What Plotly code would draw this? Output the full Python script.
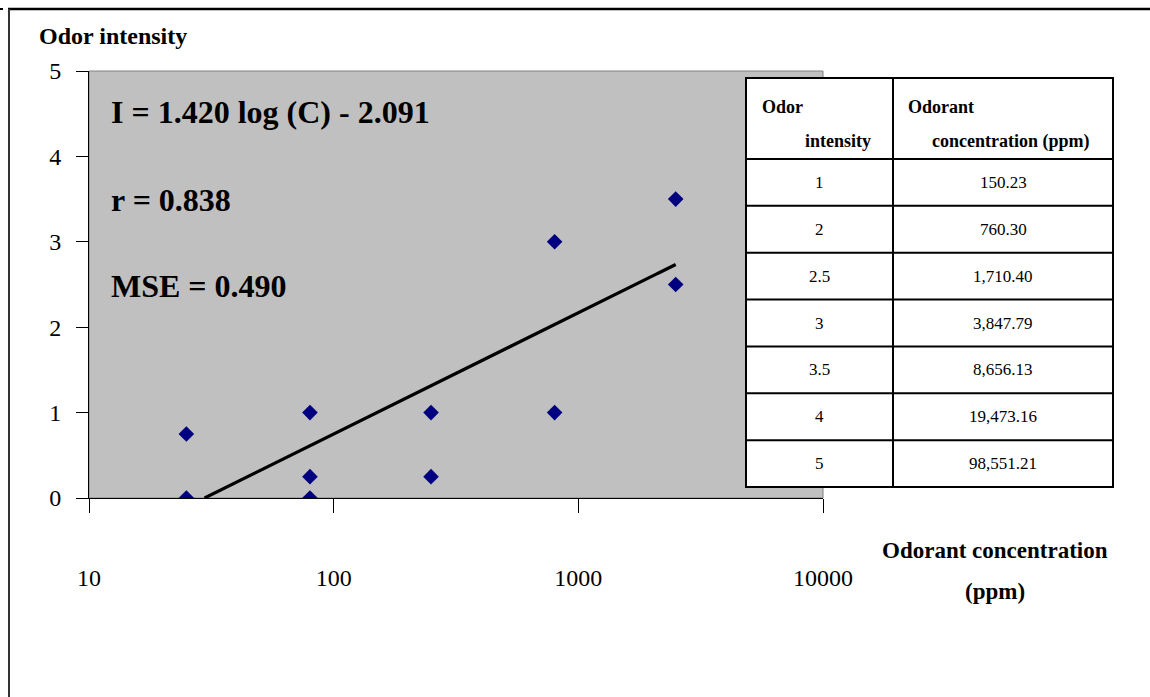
import numpy as np
import plotly.graph_objects as go

# Observed panel responses
conc_ppm = [25, 25, 80, 80, 80, 250, 250, 800, 800, 2500, 2500]
intensity = [0.75, 0, 1, 0.25, 0, 1, 0.25, 3, 1, 3.5, 2.5]

# Fitted model I = a log(C) + b
fit_a = 1.420
fit_b = -2.091
fit_r = 0.838
fit_mse = 0.490

# Reference table
table_intensity = ["1", "2", "2.5", "3", "3.5", "4", "5"]
table_conc = ["150.23", "760.30", "1,710.40", "3,847.79", "8,656.13", "19,473.16", "98,551.21"]

x_tickvals = [10, 100, 1000, 10000]
x_ticktext = ["10", "100", "1000", "10000"]
y_tickvals = [0, 1, 2, 3, 4, 5]

W, H = 1150, 697
L, R, T, B = 89, 823, 71, 498  # plot area in pixels


def px(x):
    return (x - L) / (R - L)


def py(y):
    return (B - y) / (B - T)


SERIF = "Liberation Serif, Times New Roman, serif"


def label(x, y, text, size, xanchor="left", bold=False):
    return dict(xref="paper", yref="paper", x=px(x), y=py(y),
                text=f"<b>{text}</b>" if bold else text,
                xanchor=xanchor, yanchor="middle", showarrow=False,
                font=dict(family=SERIF, size=size, color="black"))


# Trend line from the fitted equation, kept at or above zero
c_start = 10 ** (-fit_b / fit_a)
c_line = np.logspace(np.log10(c_start), np.log10(max(conc_ppm)), 200)
i_line = fit_a * np.log10(c_line) + fit_b

fig = go.Figure()
fig.add_trace(go.Scatter(x=c_line, y=i_line, mode="lines",
                         line=dict(color="black", width=3.2), hoverinfo="skip"))
fig.add_trace(go.Scatter(x=conc_ppm, y=intensity, mode="markers",
                         marker=dict(symbol="diamond", size=12, color="#000080",
                                     line=dict(width=0))))

shapes = []
annotations = []

# Plot-area frame (top/right in grey)
shapes.append(dict(type="rect", xref="paper", yref="paper", x0=0, x1=1, y0=0, y1=1,
                   line=dict(color="#808080", width=1), layer="below"))

# Outer frame lines
shapes.append(dict(type="line", xref="paper", yref="paper",
                   x0=px(8), x1=px(1150), y0=py(9), y1=py(9),
                   line=dict(color="black", width=2.5)))
shapes.append(dict(type="line", xref="paper", yref="paper",
                   x0=px(9), x1=px(9), y0=py(9), y1=py(697),
                   line=dict(color="#333333", width=2)))
shapes.append(dict(type="line", xref="paper", yref="paper",
                   x0=px(0), x1=px(3), y0=py(9), y1=py(9),
                   line=dict(color="black", width=2)))

# Table
tx0, tx_mid, tx1 = 746, 893, 1113
ty_top, ty_head = 78, 159
row_h = (487 - ty_head) / len(table_intensity)
shapes.append(dict(type="rect", xref="paper", yref="paper",
                   x0=px(tx0), x1=px(tx1), y0=py(487), y1=py(ty_top),
                   fillcolor="white", line=dict(color="black", width=2), layer="above"))
shapes.append(dict(type="line", xref="paper", yref="paper",
                   x0=px(tx_mid), x1=px(tx_mid), y0=py(487), y1=py(ty_top),
                   line=dict(color="black", width=2)))
for i in range(len(table_intensity)):
    yl = ty_head + i * row_h
    shapes.append(dict(type="line", xref="paper", yref="paper",
                       x0=px(tx0), x1=px(tx1), y0=py(yl), y1=py(yl),
                       line=dict(color="black", width=2)))
    yc = yl + row_h / 2
    annotations.append(label((tx0 + tx_mid) / 2, yc, table_intensity[i], 17, "center"))
    annotations.append(label((tx_mid + tx1) / 2, yc, table_conc[i], 17, "center"))

for txt, x0, y0 in [("Odor", 760, 107), ("intensity", 803, 141),
                    ("Odorant", 906, 107), ("concentration (ppm)", 930, 141)]:
    annotations.append(label(x0, y0, txt, 18, bold=True))

# Fit statistics
annotations.append(label(109, 112, f"I = {fit_a:.3f} log (C) - {abs(fit_b):.3f}", 32, bold=True))
annotations.append(label(109, 200, f"r = {fit_r:.3f}", 32, bold=True))
annotations.append(label(109, 286, f"MSE = {fit_mse:.3f}", 32, bold=True))

# Axis titles
annotations.append(label(37, 36, "Odor intensity", 24, bold=True))
annotations.append(label(995, 550, "Odorant concentration", 23, "center", bold=True))
annotations.append(label(995, 591, "(ppm)", 23, "center", bold=True))

fig.update_layout(
    width=W, height=H,
    margin=dict(l=L, r=W - R, t=T, b=H - B, pad=0),
    paper_bgcolor="white",
    plot_bgcolor="#C0C0C0",
    showlegend=False,
    shapes=shapes,
    annotations=annotations,
    font=dict(family=SERIF, size=24, color="black"),
)
fig.update_xaxes(type="log", range=[1, 4], tickvals=x_tickvals, ticktext=x_ticktext,
                 showgrid=False, zeroline=False, showline=True, linecolor="black", linewidth=1,
                 ticks="outside", ticklen=14, tickcolor="black", tickwidth=1,
                 ticklabelstandoff=44, tickfont=dict(family=SERIF, size=24))
fig.update_yaxes(range=[0, 5], tickvals=y_tickvals, showgrid=False, zeroline=False,
                 showline=True, linecolor="black", linewidth=1,
                 ticks="outside", ticklen=12, tickcolor="black", tickwidth=1,
                 ticklabelstandoff=10, tickfont=dict(family=SERIF, size=24))

fig.write_html("out.html")
